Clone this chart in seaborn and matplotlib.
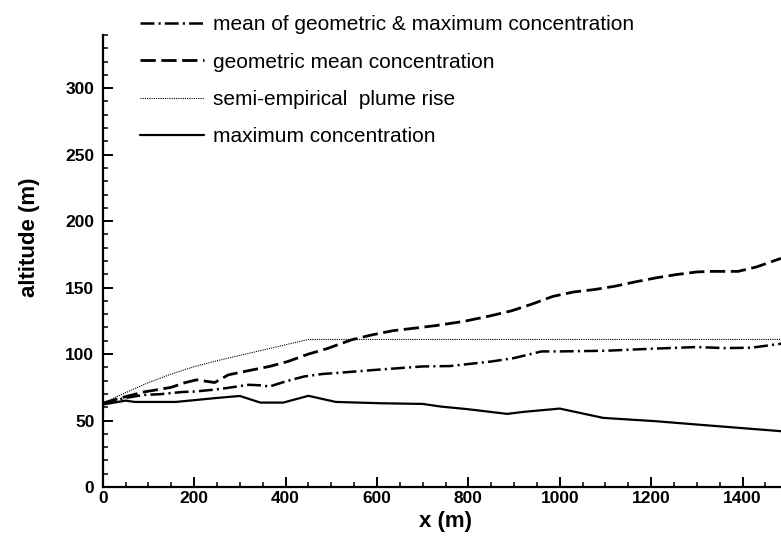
import numpy as np
import pandas as pd
import matplotlib
matplotlib.use("Agg")
import matplotlib.pyplot as plt
import seaborn as sns
from matplotlib.ticker import MultipleLocator

# =========================
# Datos
# =========================
x_max = [0, 50, 70, 160, 250, 300, 345, 395, 450, 510, 610, 700, 740, 800, 885, 920, 1000, 1095, 1210, 1300, 1484]
y_max = [62, 65, 64, 64, 67, 68.5, 63.5, 63.5, 68.6, 64, 63, 62.5, 60.5, 58.5, 55, 56.5, 59, 52, 49.5, 47, 42]

x_geo = [0, 50, 90, 125, 150, 180, 205, 225, 245, 275, 320, 365, 405, 450, 490, 545, 590, 635, 685, 730,
         790, 850, 895, 940, 985, 1030, 1075, 1120, 1165, 1210, 1255, 1300, 1330, 1390, 1430, 1484]
y_geo = [63, 68, 71.5, 73.5, 75, 78.5, 80.6, 79.6, 78.6, 84.4, 87.6, 90.7, 94.4, 100, 104, 110.8, 114.5, 117.6, 119.6, 121.5,
         124.6, 128.9, 132.6, 137.7, 143.4, 146.7, 148.5, 151, 154.3, 157.3, 159.8, 161.8, 162.2, 162.2, 165.5, 172]

x_mean = [0, 50, 90, 125, 175, 200, 240, 270, 320, 345, 365, 400, 440, 480, 520, 600, 700, 760,
          850, 900, 960, 1000, 1100, 1200, 1300, 1360, 1420, 1484]
y_mean = [63, 67, 69.3, 69.8, 71.5, 71.8, 73.1, 74.4, 76.9, 76.5, 75.6, 79.4, 83.1, 85, 86, 88.2, 90.7, 91,
          94.4, 97, 102, 102, 102.5, 104, 105.3, 104.5, 104.8, 107.8]

x_semi = [0, 50, 100, 150, 200, 250, 300, 350, 400, 450, 1484]
y_semi = [63, 71, 78.5, 85, 90.5, 95, 99, 103, 107, 111, 111]

etiquetas = ["mean of geometric & maximum concentration",
             "geometric mean concentration",
             "semi-empirical  plume rise",
             "maximum concentration"]

# =========================
# Estilo
# =========================
sns.set_style("ticks")
plt.rcParams["font.family"] = ["Liberation Sans", "DejaVu Sans"]
plt.rcParams["lines.scale_dashes"] = False
plt.rcParams["text.color"] = "black"
plt.rcParams["axes.labelcolor"] = "black"
plt.rcParams["xtick.color"] = "black"
plt.rcParams["ytick.color"] = "black"

fig = plt.figure(figsize=(7.81, 5.43), dpi=100)
ax = fig.add_axes([0.1315, 0.1031, 1.0 - 0.1315, 0.9355 - 0.1031])

sns.lineplot(x=x_mean, y=y_mean, ax=ax, color="black", linewidth=1.8,
             linestyle=(0, (10, 3, 1.5, 3)), label=etiquetas[0])
sns.lineplot(x=x_geo, y=y_geo, ax=ax, color="black", linewidth=2.0,
             linestyle=(0, (11, 4)), label=etiquetas[1])
sns.lineplot(x=x_semi, y=y_semi, ax=ax, color="black", linewidth=0.8,
             linestyle=(0, (0.8, 0.8)), label=etiquetas[2])
sns.lineplot(x=x_max, y=y_max, ax=ax, color="black", linewidth=1.6,
             linestyle="-", label=etiquetas[3])

ax.set_xlim(0, 1484)
ax.set_ylim(0, 340)
ax.xaxis.set_major_locator(MultipleLocator(200))
ax.xaxis.set_minor_locator(MultipleLocator(50))
ax.yaxis.set_major_locator(MultipleLocator(50))
ax.yaxis.set_minor_locator(MultipleLocator(10))

ax.spines["top"].set_visible(False)
ax.spines["right"].set_visible(False)
for s in ["left", "bottom"]:
    ax.spines[s].set_linewidth(1.6)
    ax.spines[s].set_color("black")
ax.tick_params(which="major", direction="in", length=7, width=1.4, labelsize=12.5)
ax.tick_params(axis="x", which="major", pad=3)
ax.tick_params(axis="y", which="major", pad=6)
ax.tick_params(which="minor", direction="in", length=3.5, width=1.1)
for lab in ax.get_xticklabels() + ax.get_yticklabels():
    lab.set_fontweight("bold")

ax.set_xlabel("x (m)", fontsize=16, fontweight="bold")
ax.set_ylabel("altitude (m)", fontsize=16, fontweight="bold")
ax.xaxis.set_label_coords(0.505, -0.052)
ax.yaxis.set_label_coords(-0.092, 0.553)

ax.legend(loc="upper left", bbox_to_anchor=(0.179, 0.972), bbox_transform=fig.transFigure,
          frameon=False, fontsize=15, handlelength=3.1, handletextpad=0.4,
          labelspacing=0.88, borderpad=0, borderaxespad=0)

fig.savefig("out.png", dpi=100)
